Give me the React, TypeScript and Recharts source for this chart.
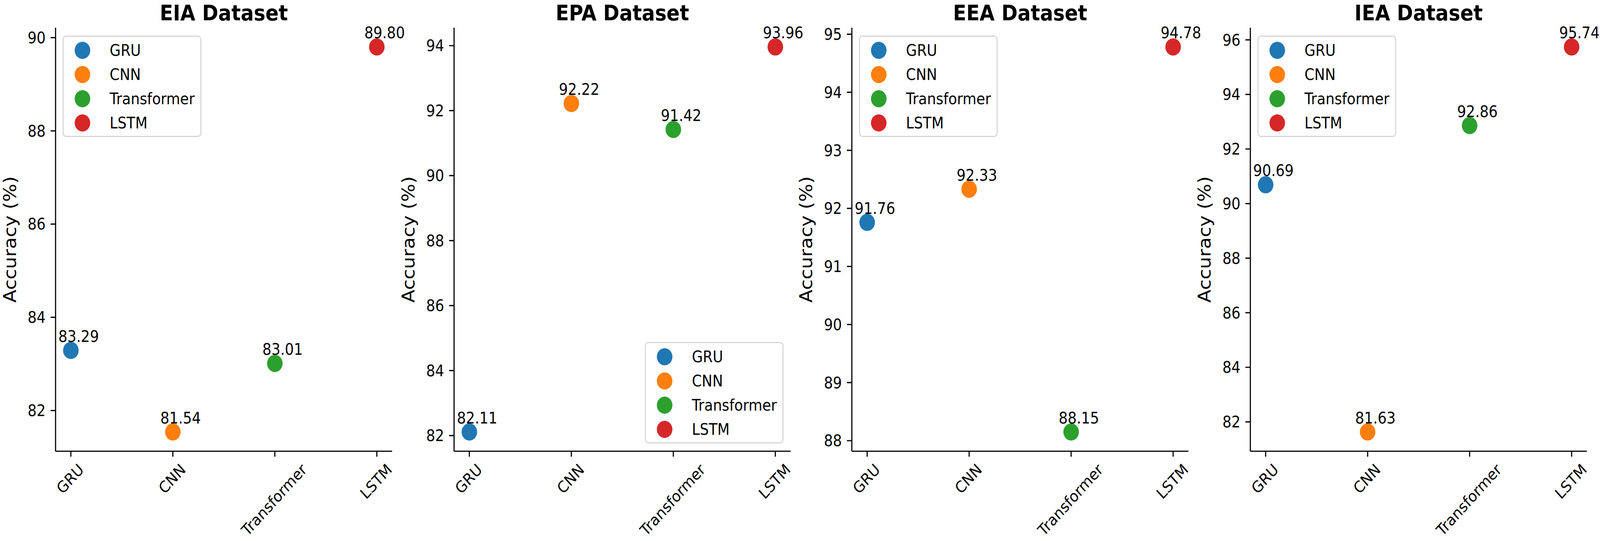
import React from 'react';
import { ScatterChart, Scatter, XAxis, YAxis, Legend, Label } from 'recharts';

const categories = ['GRU', 'CNN', 'Transformer', 'LSTM'];
const colors = ['#1f77b4', '#ff7f0e', '#2ca02c', '#d62728'];
const datasetTitles = ['EIA Dataset', 'EPA Dataset', 'EEA Dataset', 'IEA Dataset'];

const eiaValues = [83.29, 81.54, 83.01, 89.8];
const epaValues = [82.11, 92.22, 91.42, 93.96];
const eeaValues = [91.76, 92.33, 88.15, 94.78];
const ieaValues = [90.69, 81.63, 92.86, 95.74];

const eiaTicks = [82, 84, 86, 88, 90];
const epaTicks = [82, 84, 86, 88, 90, 92, 94];
const eeaTicks = [88, 89, 90, 91, 92, 93, 94, 95];
const ieaTicks = [82, 84, 86, 88, 90, 92, 94, 96];

const xTicks = [0, 1, 2, 3];

const panels = [
  { title: datasetTitles[0], values: eiaValues, ticks: eiaTicks, legend: 'upper left' },
  { title: datasetTitles[1], values: epaValues, ticks: epaTicks, legend: 'lower right' },
  { title: datasetTitles[2], values: eeaValues, ticks: eeaTicks, legend: 'upper left' },
  { title: datasetTitles[3], values: ieaValues, ticks: ieaTicks, legend: 'upper left' },
];

// layout
const FIG_W = 4521;
const FIG_H = 1386;
const PLOT_LEFTS = [157, 1283, 2407, 3533];
const PLOT_W = 951;
const PLOT_TOP = 71;
const PLOT_BOTTOM = 1156;
const YAXIS_W = 157;
const RIGHT_PAD = 70;
const CHART_W = YAXIS_W + PLOT_W + RIGHT_PAD;
const XAXIS_H = FIG_H - PLOT_BOTTOM;
const FONT = "'DejaVu Sans', 'Liberation Sans', sans-serif";
const TICK_FS = 40;
const LABEL_FS = 49;
const TITLE_FS = 55;
const LW = 3.2;
const MARKER_R = 22;
const LEG_W = 392;
const LEG_H = 260;
const LEG_PAD = 20;

let ctx: CanvasRenderingContext2D | null = null;
function measure(text: string, size: number): number {
  if (!ctx) {
    const c = document.createElement('canvas');
    ctx = c.getContext('2d');
  }
  if (!ctx) return text.length * size * 0.6;
  ctx.font = `${size}px 'DejaVu Sans'`;
  return ctx.measureText(text).width;
}

const XTick = (props: any) => {
  const { x, y, payload } = props;
  const label = categories[payload.value] ?? '';
  const w = measure(label, TICK_FS);
  const h = 0.968 * TICK_FS;
  const H = (w + h) * Math.SQRT1_2;
  const cy = y + H / 2;
  return (
    <g transform={`translate(${x},${cy}) rotate(-45)`}>
      <text x={0} y={0} dy={0.276 * TICK_FS} textAnchor="middle" fontSize={TICK_FS} fontFamily={FONT} fill="#000">
        {label}
      </text>
    </g>
  );
};

const YTick = (props: any) => {
  const { x, y, payload } = props;
  return (
    <text x={x} y={y} dy={0.36 * TICK_FS} textAnchor="end" fontSize={TICK_FS} fontFamily={FONT} fill="#000">
      {payload.value}
    </text>
  );
};

const makeDot = (color: string) => (props: any) => {
  const { cx, cy, payload } = props;
  if (cx == null || cy == null) return <g />;
  return (
    <g>
      <circle cx={cx} cy={cy} r={MARKER_R} fill={color} />
      <text x={cx + 22} y={cy - 22} textAnchor="middle" fontSize={TICK_FS} fontFamily={FONT} fill="#000">
        {Number(payload.y).toFixed(2)}
      </text>
    </g>
  );
};

const LegendBox = () => {
  const items = categories.map((c, i) => ({ name: c, color: colors[i] }));
  return (
    <div
      style={{
        position: 'relative',
        width: LEG_W,
        height: LEG_H,
        boxSizing: 'border-box',
        border: '3px solid #d6d6d6',
        borderRadius: 10,
        background: 'rgba(255,255,255,0.8)',
        fontFamily: FONT,
        fontSize: TICK_FS,
      }}
    >
      {items.map((it, i) => (
        <React.Fragment key={it.name}>
          <div
            style={{
              position: 'absolute',
              left: 56 - MARKER_R - 3,
              top: 38 + 62 * i - MARKER_R - 3,
              width: MARKER_R * 2,
              height: MARKER_R * 2,
              borderRadius: '50%',
              background: it.color,
            }}
          />
          <div
            style={{
              position: 'absolute',
              left: 133 - 3,
              top: 38 + 62 * i - 3 - 24,
              height: 48,
              lineHeight: '48px',
              color: '#000',
              whiteSpace: 'nowrap',
            }}
          >
            {it.name}
          </div>
        </React.Fragment>
      ))}
    </div>
  );
};

const YLabel = () => {
  const cy = (PLOT_TOP + PLOT_BOTTOM) / 2;
  const cx = 28;
  return (
    <text
      x={cx}
      y={cy}
      transform={`rotate(-90, ${cx}, ${cy})`}
      textAnchor="middle"
      dominantBaseline="central"
      fontSize={LABEL_FS}
      fontFamily={FONT}
      fill="#000"
    >
      Accuracy (%)
    </text>
  );
};

const Panel = ({ idx }: { idx: number }) => {
  const p = panels[idx];
  const min = Math.min(...p.values);
  const max = Math.max(...p.values);
  const pad = (max - min) * 0.05;
  const domain = [min - pad, max + pad];
  const chartLeft = PLOT_LEFTS[idx] - YAXIS_W;
  const legendStyle =
    p.legend === 'upper left'
      ? { left: YAXIS_W + LEG_PAD, top: PLOT_TOP + LEG_PAD }
      : { left: YAXIS_W + PLOT_W - LEG_PAD - LEG_W, top: PLOT_BOTTOM - LEG_PAD - LEG_H };
  return (
    <div style={{ position: 'absolute', left: chartLeft, top: 0, width: CHART_W, height: FIG_H }}>
      <ScatterChart
        width={CHART_W}
        height={FIG_H}
        margin={{ top: PLOT_TOP, right: RIGHT_PAD, bottom: 0, left: 0 }}
        style={{ overflow: 'visible' }}
      >
        <XAxis
          type="number"
          dataKey="x"
          domain={[-0.15, 3.15]}
          ticks={xTicks}
          interval={0}
          height={XAXIS_H}
          tickSize={14}
          tickMargin={14}
          axisLine={{ stroke: '#000', strokeWidth: LW }}
          tickLine={{ stroke: '#000', strokeWidth: LW }}
          tick={<XTick />}
        />
        <YAxis
          type="number"
          dataKey="y"
          domain={domain}
          ticks={p.ticks}
          interval={0}
          width={YAXIS_W}
          tickSize={14}
          tickMargin={14}
          axisLine={{ stroke: '#000', strokeWidth: LW }}
          tickLine={{ stroke: '#000', strokeWidth: LW }}
          tick={<YTick />}
        >
          <Label content={<YLabel />} />
        </YAxis>
        {categories.map((c, i) => (
          <Scatter
            key={c}
            name={c}
            data={[{ x: i, y: p.values[i] }]}
            fill={colors[i]}
            shape={makeDot(colors[i])}
            isAnimationActive={false}
          />
        ))}
        <Legend
          layout="vertical"
          align="center"
          verticalAlign="middle"
          wrapperStyle={{ ...legendStyle, width: LEG_W, height: LEG_H, margin: 0, padding: 0 }}
          content={<LegendBox />}
        />
      </ScatterChart>
      <svg
        width={CHART_W}
        height={70}
        style={{ position: 'absolute', left: 0, top: 0, overflow: 'visible', pointerEvents: 'none' }}
      >
        <text
          x={YAXIS_W + PLOT_W / 2}
          y={52}
          textAnchor="middle"
          fontSize={TITLE_FS}
          fontWeight="bold"
          fontFamily={FONT}
          fill="#000"
        >
          {p.title}
        </text>
      </svg>
    </div>
  );
};

function getScale(): [number, number] {
  if (typeof window === 'undefined') return [1, 1];
  const de = document.documentElement;
  const w = (de && de.clientWidth) || window.innerWidth || FIG_W;
  const h = (de && de.clientHeight) || window.innerHeight || FIG_H;
  const sx = w / FIG_W;
  const sy = h / FIG_H;
  return [sx > 0 ? sx : 1, sy > 0 ? sy : 1];
}

export default function App() {
  if (typeof document !== 'undefined') {
    document.body.style.margin = '0';
    document.body.style.overflow = 'hidden';
  }
  const [scale, setScale] = React.useState<[number, number]>(getScale());
  React.useEffect(() => {
    const onResize = () => setScale(getScale());
    onResize();
    window.addEventListener('resize', onResize);
    return () => window.removeEventListener('resize', onResize);
  }, []);
  return (
    <div
      style={{
        position: 'absolute',
        left: 0,
        top: 0,
        width: FIG_W,
        height: FIG_H,
        background: '#fff',
        overflow: 'hidden',
        transform: `scale(${scale[0]}, ${scale[1]})`,
        transformOrigin: '0 0',
      }}
    >
      {panels.map((_, i) => (
        <Panel key={i} idx={i} />
      ))}
    </div>
  );
}
